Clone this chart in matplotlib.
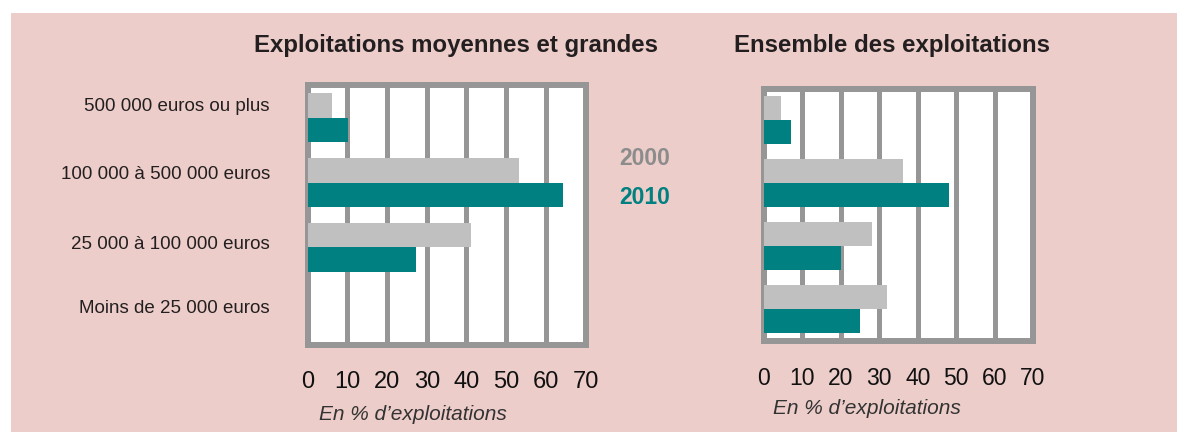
import numpy as np
import matplotlib.pyplot as plt
from matplotlib.patches import Rectangle

plt.rcParams['font.family'] = ['Liberation Sans', 'DejaVu Sans']

# Data (% d'exploitations)
categories = ['500 000 euros ou plus', '100 000 à 500 000 euros',
              '25 000 à 100 000 euros', 'Moins de 25 000 euros']
years = ['2000', '2010']
moyennes_2000 = [6.1, 53.2, 41.2, 0]
moyennes_2010 = [10.2, 64.3, 27.3, 0]
ensemble_2000 = [4.4, 36.2, 28.1, 32.0]
ensemble_2010 = [7.0, 48.2, 20.1, 25.0]
xticks = [0, 10, 20, 30, 40, 50, 60, 70]

gray_bar = '#c0c0c0'
teal = '#008080'
frame = '#969696'
pink = '#eccdc9'
dark = '#231f20'

W, H = 1177, 432
fig = plt.figure(figsize=(W / 100, H / 100), dpi=100)
fig.patch.set_facecolor('white')
fig.patches.append(Rectangle((11 / W, 0), 1, (H - 13) / H, transform=fig.transFigure,
                             facecolor=pink, edgecolor='none', zorder=-10))


def px_axes(left, top, right, bottom):
    return fig.add_axes([left / W, (H - bottom) / H, (right - left) / W, (bottom - top) / H])


def draw_panel(ax, v2000, v2010, tick_size):
    y = np.arange(len(categories))
    h = 0.38
    ax.barh(y - h / 2, v2000, height=h, color=gray_bar, zorder=3)
    ax.barh(y + h / 2, v2010, height=h, color=teal, zorder=3)
    ax.set_xlim(0, 70)
    ax.set_ylim(len(categories) - 0.5, -0.5)
    ax.set_facecolor('white')
    ax.set_xticks(xticks)
    ax.set_yticks([])
    ax.tick_params(axis='x', length=0, pad=19, labelsize=tick_size, labelcolor='#111111')
    ax.set_axisbelow(True)
    ax.grid(axis='x', color=frame, linewidth=3.6)
    for s in ax.spines.values():
        s.set_color(frame)
        s.set_linewidth(4.3)


ax1 = px_axes(307.6, 85.3, 585.6, 344.7)
draw_panel(ax1, moyennes_2000, moyennes_2010, 17)
ax2 = px_axes(764, 88.7, 1033, 341)
draw_panel(ax2, ensemble_2000, ensemble_2010, 16.5)

# category labels (baseline nudges in px)
nudge = [7, 3.2, -1.6, -1.0]
for i, lab in enumerate(categories):
    ax1.annotate(lab, xy=(0, i), xycoords=('axes fraction', 'data'),
                 xytext=(-37.6 * 0.72, nudge[i] * 0.72), textcoords='offset points',
                 ha='right', va='baseline', fontsize=13.5, color=dark)

# titles
fig.text(456.4 / W, (H - 51.7) / H, 'Exploitations moyennes et grandes',
         ha='center', va='baseline', fontsize=17.3, fontweight='bold', color=dark)
fig.text(892.5 / W, (H - 51.7) / H, 'Ensemble des exploitations',
         ha='center', va='baseline', fontsize=17.3, fontweight='bold', color=dark)

# year legend
fig.text(645 / W, (H - 165) / H, years[0], ha='center', va='baseline',
         fontsize=16.5, fontweight='bold', color='#8c8c8c')
fig.text(645 / W, (H - 204) / H, years[1], ha='center', va='baseline',
         fontsize=16.5, fontweight='bold', color=teal)

# axis captions
fig.text(319 / W, (H - 420) / H, 'En % d\u2019exploitations', ha='left', va='baseline',
         fontsize=15, style='italic', color='#333333')
fig.text(773 / W, (H - 414) / H, 'En % d\u2019exploitations', ha='left', va='baseline',
         fontsize=15, style='italic', color='#333333')

fig.savefig('out.png', dpi=100)
